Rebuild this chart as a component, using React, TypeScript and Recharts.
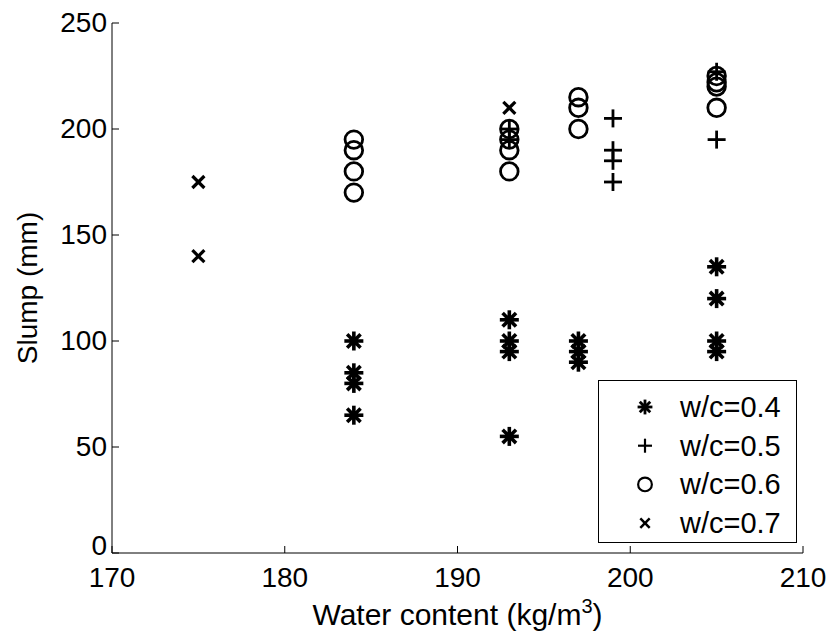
import React from 'react';
import { ScatterChart, Scatter, XAxis, YAxis, Legend } from 'recharts';

const xTicks = [170, 180, 190, 200, 210];
const yTicks = [0, 50, 100, 150, 200, 250];

const wc04 = [
  { w: 184, s: 100 }, { w: 184, s: 85 }, { w: 184, s: 80 }, { w: 184, s: 65 },
  { w: 193, s: 110 }, { w: 193, s: 100 }, { w: 193, s: 95 }, { w: 193, s: 55 },
  { w: 197, s: 100 }, { w: 197, s: 95 }, { w: 197, s: 90 },
  { w: 205, s: 135 }, { w: 205, s: 120 }, { w: 205, s: 100 }, { w: 205, s: 95 },
];
const wc05 = [
  { w: 193, s: 200 }, { w: 193, s: 195 },
  { w: 199, s: 205 }, { w: 199, s: 190 }, { w: 199, s: 185 }, { w: 199, s: 175 },
  { w: 205, s: 227 }, { w: 205, s: 195 },
];
const wc06 = [
  { w: 184, s: 195 }, { w: 184, s: 190 }, { w: 184, s: 180 }, { w: 184, s: 170 },
  { w: 193, s: 200 }, { w: 193, s: 195 }, { w: 193, s: 190 }, { w: 193, s: 180 },
  { w: 197, s: 215 }, { w: 197, s: 210 }, { w: 197, s: 200 },
  { w: 205, s: 225 }, { w: 205, s: 222 }, { w: 205, s: 220 }, { w: 205, s: 210 },
];
const wc07 = [
  { w: 175, s: 175 }, { w: 175, s: 140 }, { w: 193, s: 210 },
];

const seriesNames = ['w/c=0.4', 'w/c=0.5', 'w/c=0.6', 'w/c=0.7'];
const seriesMarkers = ['star', 'plus', 'circle', 'cross'];
const seriesData = [wc04, wc05, wc06, wc07];

const FONT = '"Liberation Sans", Arial, Helvetica, sans-serif';
const FS = 28;

function Marker({ kind, cx, cy, k = 1 }: { kind: string; cx: number; cy: number; k?: number }) {
  if (kind === 'star') {
    const h = 9.5 * k;
    const d = h * 0.7071;
    return (
      <g stroke="#000" strokeWidth={3.6 * k}>
        <line x1={cx - h} y1={cy} x2={cx + h} y2={cy} />
        <line x1={cx} y1={cy - h} x2={cx} y2={cy + h} />
        <line x1={cx - d} y1={cy - d} x2={cx + d} y2={cy + d} />
        <line x1={cx - d} y1={cy + d} x2={cx + d} y2={cy - d} />
        <circle cx={cx} cy={cy} r={4.5 * k} fill="#000" stroke="none" />
      </g>
    );
  }
  if (kind === 'plus') {
    const h = 9 * k;
    return (
      <g stroke="#000" strokeWidth={2.8 * k}>
        <line x1={cx - h} y1={cy} x2={cx + h} y2={cy} />
        <line x1={cx} y1={cy - h} x2={cx} y2={cy + h} />
      </g>
    );
  }
  if (kind === 'circle') {
    return <circle cx={cx} cy={cy} r={8.8 * k} fill="none" stroke="#000" strokeWidth={2.8 * k} />;
  }
  const h = 6 * k;
  return (
    <g stroke="#000" strokeWidth={3.2 * k}>
      <line x1={cx - h} y1={cy - h} x2={cx + h} y2={cy + h} />
      <line x1={cx - h} y1={cy + h} x2={cx + h} y2={cy - h} />
    </g>
  );
}

const BottomTick = (p: any) => (
  <g>
    <line x1={p.x} y1={p.y} x2={p.x} y2={p.y - 7} stroke="#000" />
    <text x={p.x} y={p.y + 34} textAnchor="middle" fontSize={FS} fontFamily={FONT} fill="#000">
      {p.payload.value}
    </text>
  </g>
);
const TopTick = (p: any) => (
  <line x1={p.x} y1={p.y} x2={p.x} y2={p.y + 7} stroke="#000" />
);
const LeftTick = (p: any) => (
  <g>
    <line x1={p.x} y1={p.y} x2={p.x + 7} y2={p.y} stroke="#000" />
    <text x={p.x - 5} y={p.y + (p.payload.value === 0 ? 2 : 9)} textAnchor="end" fontSize={FS} fontFamily={FONT} fill="#000">
      {p.payload.value}
    </text>
  </g>
);
const RightTick = (p: any) => (
  <line x1={p.x} y1={p.y} x2={p.x - 7} y2={p.y} stroke="#000" />
);

const LegendBox = () => (
  <svg width={199} height={163} style={{ display: 'block' }}>
    <rect x={0.5} y={0.5} width={198} height={162} fill="#fff" stroke="#000" />
    {seriesNames.map((n, i) => (
      <g key={n}>
        <Marker kind={seriesMarkers[i]} cx={47} cy={27 + i * 38.7} k={0.78} />
        <text x={82} y={27 + i * 38.7 + 10} fontSize={29} fontFamily={FONT} fill="#000">
          {n}
        </text>
      </g>
    ))}
  </svg>
);

export default function App() {
  return (
    <div style={{ position: 'absolute', left: 0, top: 0, background: '#fff' }}>
      <ScatterChart width={836} height={636} margin={{ top: 23, right: 33, bottom: 0, left: 0 }}>
        <XAxis
          xAxisId="b"
          type="number"
          dataKey="w"
          domain={[170, 210]}
          ticks={xTicks}
          interval={0}
          allowDataOverflow
          height={83}
          tickSize={0}
          tickMargin={0}
          tickLine={false}
          axisLine={{ stroke: '#000' }}
          tick={BottomTick}
          label={{
            content: (lp: any) => {
              const vb = lp.viewBox || {};
              const cx = (vb.x ?? 112) + (vb.width ?? 691) / 2;
              const y = (vb.y ?? 553) + 72;
              return (
                <text x={cx} y={y} textAnchor="middle" fontSize={30} fontFamily={FONT} fill="#000">
                  Water content (kg/m<tspan dy={-12} fontSize={20}>3</tspan>
                  <tspan dy={12}>)</tspan>
                </text>
              );
            },
          }}
        />
        <XAxis
          xAxisId="t"
          orientation="top"
          type="number"
          domain={[170, 210]}
          ticks={xTicks}
          interval={0}
          allowDataOverflow
          height={0}
          tickSize={0}
          tickMargin={0}
          tickLine={false}
          axisLine={{ stroke: '#000' }}
          tick={TopTick}
        />
        <YAxis
          yAxisId="l"
          type="number"
          dataKey="s"
          domain={[0, 250]}
          ticks={yTicks}
          interval={0}
          allowDataOverflow
          width={112}
          tickSize={0}
          tickMargin={0}
          tickLine={false}
          axisLine={{ stroke: '#000' }}
          tick={LeftTick}
          label={{
            content: (lp: any) => {
              const vb = lp.viewBox || {};
              const cx = (vb.x ?? 0) + 27;
              const cy = (vb.y ?? 23) + (vb.height ?? 530) / 2;
              return (
                <text
                  x={cx}
                  y={cy}
                  transform={`rotate(-90, ${cx}, ${cy})`}
                  textAnchor="middle"
                  dominantBaseline="central"
                  fontSize={FS}
                  fontFamily={FONT}
                  fill="#000"
                >
                  Slump (mm)
                </text>
              );
            },
          }}
        />
        <YAxis
          yAxisId="r"
          orientation="right"
          type="number"
          domain={[0, 250]}
          ticks={yTicks}
          interval={0}
          allowDataOverflow
          width={0}
          tickSize={0}
          tickMargin={0}
          tickLine={false}
          axisLine={{ stroke: '#000' }}
          tick={RightTick}
        />
        {seriesData.map((d, i) => (
          <Scatter
            key={seriesNames[i]}
            name={seriesNames[i]}
            data={d}
            xAxisId="b"
            yAxisId="l"
            isAnimationActive={false}
            shape={(p: any) => <Marker kind={seriesMarkers[i]} cx={p.cx} cy={p.cy} />}
          />
        ))}
        <Legend
          layout="vertical"
          align="center"
          verticalAlign="middle"
          wrapperStyle={{ position: 'absolute', left: 598, top: 380, width: 199, height: 163 }}
          content={() => <LegendBox />}
        />
      </ScatterChart>
    </div>
  );
}
